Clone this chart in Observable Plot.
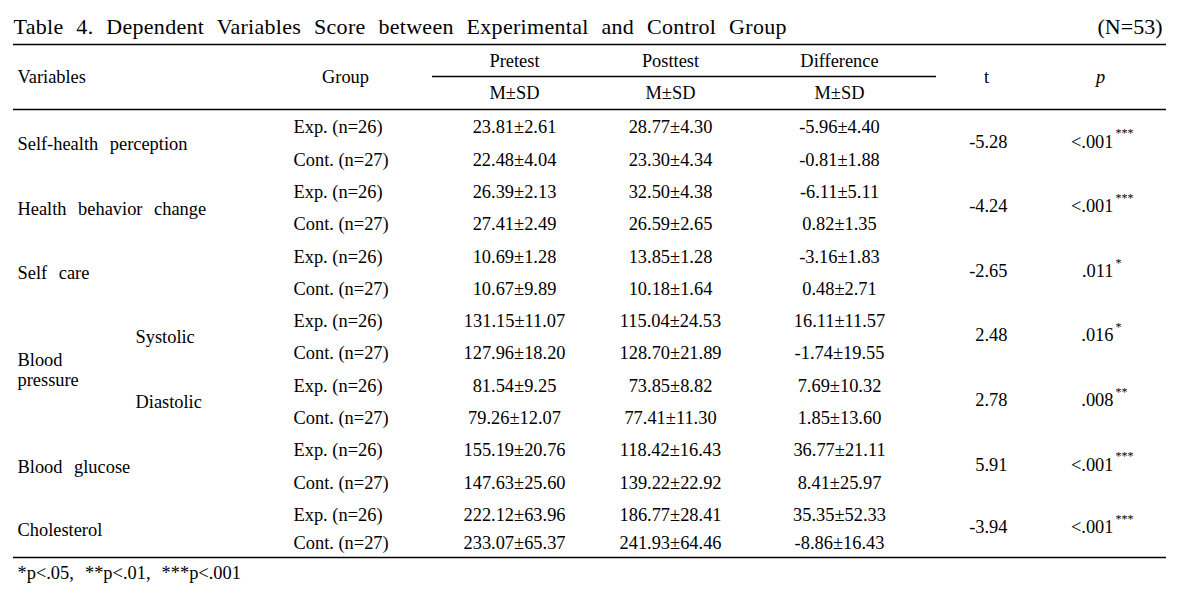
<!DOCTYPE html>
<html>
<head>
<meta charset="utf-8">
<script src="https://cdn.jsdelivr.net/npm/d3@7"></script>
<script src="https://cdn.jsdelivr.net/npm/@observablehq/plot@0.6"></script>
<style>
  html, body { margin: 0; padding: 0; background: #fff; }
  #chart svg { display: block; }
</style>
</head>
<body>
<div id="chart"></div>
<script>
// ---------- data ----------
const title = "Table 4. Dependent Variables Score between Experimental and Control Group";
const sampleNote = "(N=53)";
const headerTop = ["Pretest", "Posttest", "Difference"];
const headerSub = "M±SD";
const variables = ["Self-health perception", "Health behavior change", "Self care",
                   "Blood pressure", "Blood pressure", "Blood glucose", "Cholesterol"];
const subVariables = ["", "", "", "Systolic", "Diastolic", "", ""];
const groups = ["Exp. (n=26)", "Cont. (n=27)"];

const preM   = [23.81, 22.48, 26.39, 27.41, 10.69, 10.67, 131.15, 127.96, 81.54, 79.26, 155.19, 147.63, 222.12, 233.07];
const preSD  = [2.61, 4.04, 2.13, 2.49, 1.28, 9.89, 11.07, 18.20, 9.25, 12.07, 20.76, 25.60, 63.96, 65.37];
const postM  = [28.77, 23.30, 32.50, 26.59, 13.85, 10.18, 115.04, 128.70, 73.85, 77.41, 118.42, 139.22, 186.77, 241.93];
const postSD = [4.30, 4.34, 4.38, 2.65, 1.28, 1.64, 24.53, 21.89, 8.82, 11.30, 16.43, 22.92, 28.41, 64.46];
const diffM  = [-5.96, -0.81, -6.11, 0.82, -3.16, 0.48, 16.11, -1.74, 7.69, 1.85, 36.77, 8.41, 35.35, -8.86];
const diffSD = [4.40, 1.88, 5.11, 1.35, 1.83, 2.71, 11.57, 19.55, 10.32, 13.60, 21.11, 25.97, 52.33, 16.43];
const tValues = [-5.28, -4.24, -2.65, 2.48, 2.78, 5.91, -3.94];
const pValues = ["<.001", "<.001", ".011", ".016", ".008", "<.001", "<.001"];
const pStars  = ["***", "***", "*", "*", "**", "***", "***"];
const footnote = "*p<.05, **p<.01, ***p<.001";

// ---------- layout ----------
const W = 1178, H = 601;
const FONT = "Liberation Serif";
const FS = 18.4;
const L = {
  ruleX1: 13, ruleX2: 1166,
  ruleTop: 44, ruleHead: 109, ruleBottom: 557,
  subRuleX1: 432, subRuleX2: 936, subRuleY: 76,
  titleY: 26, headY1: 61, headY2: 93, headMid: 77,
  left: 17, sub: 135, group: 293, groupHead: 345,
  pre: 514, post: 670, diff: 839,
  t: 1007, tHead: 986, p: 1113, pHead: 1100, star: 1115, noteRight: 1162,
  firstRow: 127, rowStep: 32.3, lastStep: 28.5, footY: 573
};
const colX = {Pretest: L.pre, Posttest: L.post, Difference: L.diff};

const fmt = (m, s) => `${m.toFixed(2)}±${s.toFixed(2)}`;
const rowY = i => L.firstRow + L.rowStep * Math.min(i, 12) + (i > 12 ? L.lastStep : 0);
const pairY = k => (rowY(2 * k) + rowY(2 * k + 1)) / 2;

const rows = d3.range(preM.length).map(i => ({
  i, group: groups[i % 2],
  pre: fmt(preM[i], preSD[i]), post: fmt(postM[i], postSD[i]), diff: fmt(diffM[i], diffSD[i])
}));
const outcomes = variables.map((v, k) => ({
  k, variable: v, sub: subVariables[k], t: tValues[k].toFixed(2), p: pValues[k], star: pStars[k]
}));
const varLabels = d3.groups(outcomes, d => d.variable).map(([v, ks]) => ({
  label: ks.length > 1 ? v.split(" ").join("\n") : v,
  y: d3.mean(ks, d => pairY(d.k))
}));
const subLabels = outcomes.filter(d => d.sub);

const txt = (data, o) => Plot.text(data, {fontSize: FS, fill: "#000", fontFamily: FONT, ...o});

const chart = Plot.plot({
  width: W, height: H, margin: 0,
  x: {domain: [0, W], range: [0, W], axis: null},
  y: {domain: [0, H], range: [0, H], axis: null},
  style: {fontFamily: FONT, background: "#fff", color: "#000"},
  marks: [
    // rules
    Plot.ruleY([L.ruleTop, L.ruleHead, L.ruleBottom], {y: d => d, x1: L.ruleX1, x2: L.ruleX2, stroke: "#000", strokeWidth: 1.5}),
    Plot.ruleY([L.subRuleY], {y: d => d, x1: L.subRuleX1, x2: L.subRuleX2, stroke: "#000", strokeWidth: 1.3}),
    // title
    txt([title], {x: () => L.ruleX1, y: () => L.titleY, text: d => d, textAnchor: "start", fontSize: 22}),
    txt([sampleNote], {x: () => L.noteRight, y: () => L.titleY, text: d => d, textAnchor: "end", fontSize: 22}),
    // headers
    txt(["Variables"], {x: () => L.left, y: () => L.headMid, text: d => d, textAnchor: "start"}),
    txt(["Group"], {x: () => L.groupHead, y: () => L.headMid, text: d => d}),
    txt(headerTop, {x: d => colX[d], y: () => L.headY1, text: d => d}),
    txt(headerTop, {x: d => colX[d], y: () => L.headY2, text: () => headerSub}),
    txt(["t"], {x: () => L.tHead, y: () => L.headMid, text: d => d}),
    txt(["p"], {x: () => L.pHead, y: () => L.headMid, text: d => d, fontStyle: "italic"}),
    // variable labels
    txt(varLabels, {x: () => L.left, y: "y", text: "label", textAnchor: "start", lineHeight: 1.1}),
    txt(subLabels, {x: () => L.sub, y: d => pairY(d.k), text: "sub", textAnchor: "start"}),
    // rows
    txt(rows, {x: () => L.group, y: d => rowY(d.i), text: "group", textAnchor: "start"}),
    txt(rows, {x: () => L.pre, y: d => rowY(d.i), text: "pre"}),
    txt(rows, {x: () => L.post, y: d => rowY(d.i), text: "post"}),
    txt(rows, {x: () => L.diff, y: d => rowY(d.i), text: "diff"}),
    // t and p
    txt(outcomes, {x: () => L.t, y: d => pairY(d.k) - 2, text: "t", textAnchor: "end"}),
    txt(outcomes, {x: () => L.p, y: d => pairY(d.k) - 2, text: "p", textAnchor: "end"}),
    txt(outcomes, {x: () => L.star, y: d => pairY(d.k) - 10, text: "star", textAnchor: "start", fontSize: 12}),
    // footnote
    txt([footnote], {x: () => L.left, y: () => L.footY, text: d => d, textAnchor: "start"})
  ]
});

const sel = d3.select(chart).selectAll("text");
sel.filter(function() { return this.textContent === title; })
  .attr("word-spacing", "7").attr("letter-spacing", "0.3")
  .style("word-spacing", "7px").style("letter-spacing", "0.3px");
const labelSet = new Set(variables.filter(v => v.includes(" ")));
sel.filter(function() { return labelSet.has(this.textContent); })
  .attr("word-spacing", "7").style("word-spacing", "7px");
sel.filter(function() { return this.textContent === footnote; })
  .attr("word-spacing", "6.5").style("word-spacing", "6.5px");
document.getElementById("chart").appendChild(chart);
</script>
</body>
</html>
